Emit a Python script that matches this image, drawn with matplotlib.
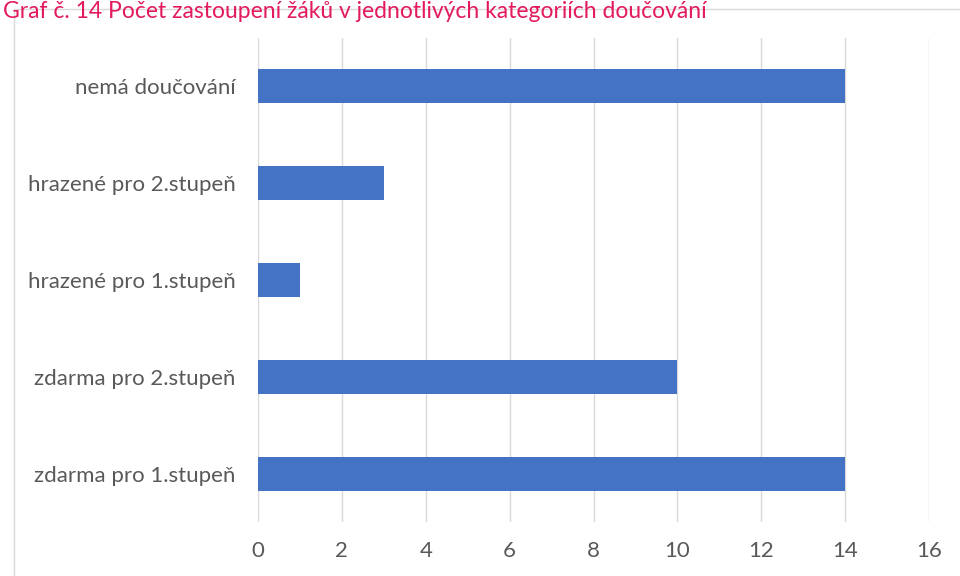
import matplotlib.pyplot as plt
from matplotlib.patches import Rectangle

categories = ['zdarma pro 1.stupeň', 'zdarma pro 2.stupeň', 'hrazené pro 1.stupeň',
              'hrazené pro 2.stupeň', 'nemá doučování']
values = [14, 10, 1, 3, 14]
xticks = [0, 2, 4, 6, 8, 10, 12, 14, 16]
title = 'Graf č. 14 Počet zastoupení žáků v jednotlivých kategoriích doučování'

plt.rcParams['font.family'] = ['Lato', 'DejaVu Sans']

fig = plt.figure(figsize=(9.6, 5.76), dpi=100)
ax = fig.add_axes([258 / 960, 1 - 522 / 576, (929 - 258) / 960, (522 - 38) / 576])

# outer chart frame (partly cut off)
fig.patches.append(Rectangle((14 / 960, -0.1), 1.0, 1 - 9 / 576 + 0.1,
                             transform=fig.transFigure, fill=False,
                             edgecolor='#d9d9d9', linewidth=1.0))

ax.barh(range(len(categories)), values, height=0.35, color='#4472c4', zorder=3)
ax.set_ylim(-0.5, 4.5)
ax.set_xlim(0, 16)
ax.set_xticks(xticks)
ax.set_yticks(range(len(categories)))
ax.set_yticklabels(categories)
ax.grid(axis='x', color='#d9d9d9', linewidth=1.0, zorder=0)
for s in ax.spines.values():
    s.set_visible(False)
ax.tick_params(length=0, labelsize=16, colors='#595959')
ax.tick_params(axis='x', pad=14)
ax.tick_params(axis='y', pad=16)

fig.text(0.003, 0.999, title, color='#e31b5c', fontsize=16.5, va='top', ha='left')

fig.savefig('out.png', dpi=100)
